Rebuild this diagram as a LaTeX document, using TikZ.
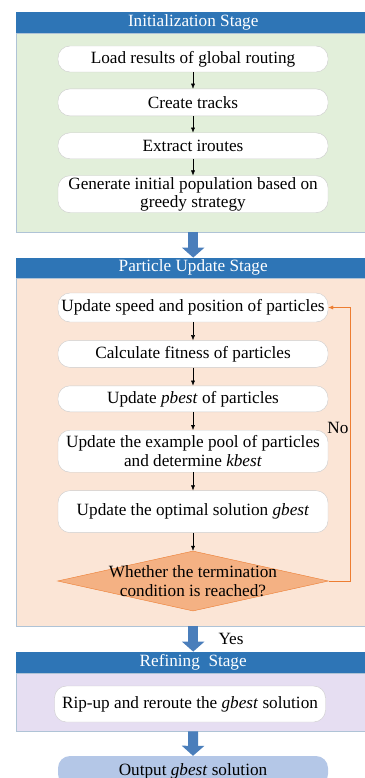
\documentclass[tikz,border=0pt]{standalone}
\usepackage{fontspec}
\setmainfont{Liberation Serif}
\usetikzlibrary{arrows.meta,positioning,shapes.geometric}
\definecolor{barblue}{RGB}{46,117,182}
\definecolor{initbg}{RGB}{226,239,218}
\definecolor{updbg}{RGB}{251,229,214}
\definecolor{refbg}{RGB}{230,222,242}
\definecolor{panelline}{RGB}{175,195,214}
\definecolor{fatblue}{RGB}{74,126,187}
\definecolor{decfill}{RGB}{244,177,131}
\definecolor{decline}{RGB}{237,125,49}
\definecolor{outblue}{RGB}{180,199,231}
\tikzset{
  panelbox/.style={draw=panelline,minimum width=354pt,anchor=north west,inner sep=0pt},
  stagebar/.style={fill=barblue,text=white,minimum width=354pt,minimum height=21pt,anchor=south west,inner sep=0pt},
  stepbox/.style={draw=gray!40,fill=white,rounded corners=12pt,minimum width=270pt,minimum height=27pt,align=center,inner sep=1pt},
  flow/.style={-{Latex[length=5pt,width=4pt]},black},
  fatarrow/.style={line width=10pt,fatblue,-{Triangle[width=22pt,length=10pt]}},
  decision/.style={diamond,draw=decline,fill=decfill,minimum width=271pt,minimum height=60pt,inner sep=0pt},
  back/.style={decline,-{Latex[length=5pt,width=4pt]}}
}

\begin{document}
\begin{tikzpicture}[x=1pt,y=-1pt,font=\fontsize{17.2pt}{18.5pt}\selectfont]
\useasboundingbox (0,0) rectangle (364,778);

\node[panelbox,fill=initbg,minimum height=199pt] (initpanel) at (16,33) {};
\node[stagebar] (inithead) at (initpanel.north west) {Initialization Stage};
\node[stepbox,minimum height=26pt] (load) at (193,59) {Load results of global routing};
\node[stepbox,below=16.5pt of load] (tracks) {Create tracks};
\node[stepbox,minimum height=26pt,below=16.5pt of tracks] (iroutes) {Extract iroutes};
\node[stepbox,minimum height=37pt,below=16.5pt of iroutes] (greedy) {Generate initial population based on\\greedy strategy};
\draw[flow] (load) -- (tracks);
\draw[flow] (tracks) -- (iroutes);
\draw[flow] (iroutes) -- (greedy);

\node[panelbox,fill=updbg,minimum height=348pt] (updpanel) at (16,278) {};
\node[stagebar,minimum height=20pt] (updhead) at (updpanel.north west) {Particle Update Stage};
\node[stepbox,minimum height=29pt] (speed) at (193,307.5) {Update speed and position of particles};
\node[stepbox,below=18pt of speed] (fitness) {Calculate fitness of particles};
\node[stepbox,minimum height=26pt,below=18pt of fitness] (pbest) {Update \textit{pbest} of particles};
\node[stepbox,minimum height=42pt,below=18pt of pbest] (kbest) {Update the example pool of particles\\and determine \textit{kbest}};
\node[stepbox,minimum height=42pt,below=18pt of kbest] (gbest) {Update the optimal solution \textit{gbest}};
\node[decision,below=18pt of gbest,label={[align=center]center:Whether the termination\\condition is reached?}] (stop) {};
\draw[flow] (speed) -- (fitness);
\draw[flow] (fitness) -- (pbest);
\draw[flow] (pbest) -- (kbest);
\draw[flow] (kbest) -- (gbest);
\draw[flow] (gbest) -- (stop);
\draw[back] (stop.east) -- ++(21pt,0) |- (speed.east) node[pos=0.28,left=0pt,inner sep=1pt,text=black] {No};

\node[panelbox,fill=refbg,minimum height=58pt] (refpanel) at (16,673) {};
\node[stagebar] (refhead) at (refpanel.north west) {Refining\ \ Stage};
\node[stepbox,minimum width=271pt,minimum height=36pt] (ripup) at (190,704) {Rip-up and reroute the \textit{gbest} solution};

\node[stepbox,draw=none,fill=outblue,minimum height=30pt] (output) at (193,771) {Output \textit{gbest} solution};

\draw[fatarrow] (initpanel.south) -- (updhead.north);
\draw[fatarrow] (updpanel.south) -- (refhead.north) node[midway,right=17pt,text=black] {Yes};
\draw[fatarrow] (refpanel.south) -- (output.north);
\end{tikzpicture}
\end{document}
